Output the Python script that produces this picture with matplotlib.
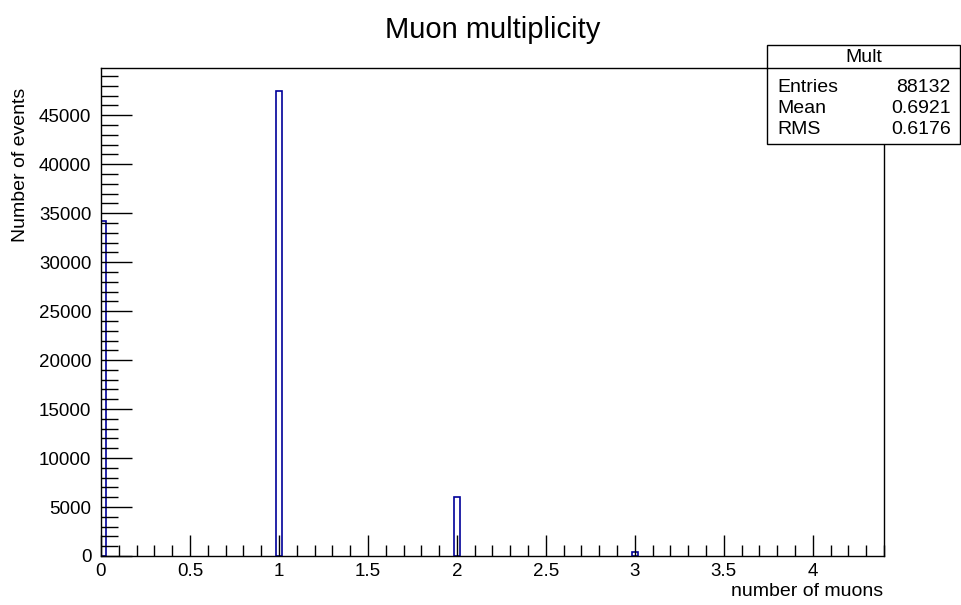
import matplotlib
matplotlib.use("Agg")
import matplotlib.pyplot as plt
from matplotlib.patches import Rectangle
from matplotlib.ticker import MultipleLocator, FuncFormatter
import numpy as np

plt.rcParams['font.family'] = ['Liberation Sans', 'DejaVu Sans']

# muon multiplicity histogram
n_muons = [0, 1, 2, 3]
n_events = [34180, 47450, 6060, 400]
bin_width = 0.03

# stats box
stats_name = "Mult"
stats_labels = ["Entries", "Mean", "RMS"]
stats_values = ["88132", "0.6921", "0.6176"]

W, H = 962, 605
fig = plt.figure(figsize=(W / 100, H / 100), dpi=100)
ax = fig.add_axes([101 / W, 1 - 556 / H, (884 - 101) / W, (556 - 68) / H])

# bins are centred on the integer, the first one starts at the axis edge
x = np.array(n_muons, dtype=float)
left = np.maximum(x - bin_width / 2, 0)
ax.bar(left, n_events, width=bin_width, align='edge',
       facecolor='none', edgecolor='#000099', linewidth=1.2)

ax.set_xlim(0, 4.4)
ax.set_ylim(0, 1.05 * max(n_events))

ax.xaxis.set_major_locator(MultipleLocator(0.5))
ax.xaxis.set_minor_locator(MultipleLocator(0.1))
ax.yaxis.set_major_locator(MultipleLocator(5000))
ax.yaxis.set_minor_locator(MultipleLocator(1000))
ax.xaxis.set_major_formatter(FuncFormatter(lambda v, p: f"{v:g}"))
ax.yaxis.set_major_formatter(FuncFormatter(lambda v, p: f"{v:g}"))

ax.tick_params(axis='x', which='major', direction='in', length=15, width=1, labelsize=13.5, pad=5)
ax.tick_params(axis='x', which='minor', direction='in', length=8, width=1)
ax.tick_params(axis='y', which='major', direction='in', length=22, width=1, labelsize=13.5, pad=7)
ax.tick_params(axis='y', which='minor', direction='in', length=12, width=1)
for s in ax.spines.values():
    s.set_linewidth(1)

fig.text(883 / W, 1 - 592 / H, "number of muons", ha='right', va='center', fontsize=14)
fig.text(21 / W, 1 - 88 / H, "Number of events", rotation=90, ha='center', va='top', fontsize=14)
fig.text(493 / W, 1 - 30 / H, "Muon multiplicity", ha='center', va='center', fontsize=21)

# stats box in the top-right corner
bx0, bx1, by0, by1, hy = 767, 960, 45, 144, 68
fig.add_artist(Rectangle((bx0 / W, 1 - by1 / H), (bx1 - bx0) / W, (by1 - by0) / H,
                         transform=fig.transFigure, facecolor='white',
                         edgecolor='black', linewidth=1, zorder=5))
fig.add_artist(plt.Line2D([bx0 / W, bx1 / W], [1 - hy / H, 1 - hy / H],
                          transform=fig.transFigure, color='black', linewidth=1, zorder=6))
fig.text((bx0 + bx1) / 2 / W, 1 - 57 / H, stats_name, ha='center', va='center', fontsize=14, zorder=7)
for i, (lab, val) in enumerate(zip(stats_labels, stats_values)):
    yy = 1 - (87 + 21.5 * i) / H
    fig.text(777 / W, yy, lab, ha='left', va='center', fontsize=14, zorder=7)
    fig.text(951 / W, yy, val, ha='right', va='center', fontsize=14, zorder=7)

fig.savefig("out.png", dpi=100)
